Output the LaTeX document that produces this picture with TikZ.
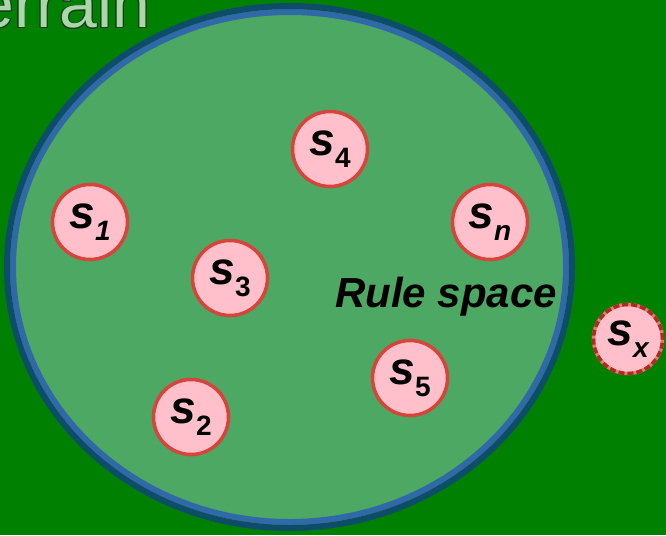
\documentclass[tikz,border=0pt]{standalone}
\usepackage{fontspec}
\setmainfont{Liberation Sans}
\usepackage{contour}
\usetikzlibrary{shapes.geometric}
\definecolor{terrain}{HTML}{008000}
\definecolor{spacefill}{HTML}{4CA862}
\definecolor{rimdark}{HTML}{0D4D6A}
\definecolor{rimblue}{HTML}{3069A8}
\definecolor{rulefill}{HTML}{FFC0CB}
\definecolor{ruleline}{HTML}{D8443C}
\definecolor{ruledark}{HTML}{B02A20}
\definecolor{titlefill}{HTML}{A8D8A8}
\definecolor{titleline}{HTML}{1E3A1E}
\contourlength{0.9pt}
\contournumber{16}
\newcommand{\rname}[1]{{\bfseries\itshape s}\raisebox{-12pt}{\fontsize{28}{28}\selectfont\bfseries #1}}

\begin{document}
\begin{tikzpicture}[
        x=1pt, y=-1pt,
        rule/.style={circle, draw=ruleline, fill=rulefill, line width=3.5pt, minimum size=75pt, inner sep=0pt,
                     font=\fontsize{46}{46}\selectfont},
        outsider/.style={rule, minimum size=69pt, draw=ruleline!70,
                     postaction={draw=ruledark, line width=3.5pt, dash pattern=on 6pt off 3pt}},
        label/.style={font=\fontsize{42}{42}\selectfont\bfseries\itshape, inner sep=0pt},
    ]
    % Terrain
    \clip (0,0) rectangle (666,535);
    \fill[terrain] (0,0) rectangle (666,535);
    \node[anchor=base west, inner sep=0pt, text=titlefill, font=\fontsize{68}{68}\selectfont] (title) at (-24,28) {\contour{titleline}{errain}};

    % Rule space
    \fill[spacefill] (289.5,267) ellipse (280pt and 258pt);
    \draw[rimblue, line width=6pt] (289.5,267) ellipse (276.5pt and 255pt);
    \draw[rimdark, line width=6pt] (289.5,267) ellipse (282.5pt and 261pt);
    \node[label, anchor=base] (space) at (446,307) {Rule space};

    % Rules
    \node[rule] (s1) at (90,222) {\rname{\itshape 1}};
    \node[rule] (s2) at (191,417) {\rname{2}};
    \node[rule] (s3) at (230,278) {\rname{3}};
    \node[rule] (s4) at (330,149) {\rname{4}};
    \node[rule] (s5) at (410,378) {\rname{5}};
    \node[rule] (sn) at (490,222) {\rname{\itshape n}};
    \node[outsider] (sx) at (628,339) {\rname{\itshape x}};
\end{tikzpicture}
\end{document}
